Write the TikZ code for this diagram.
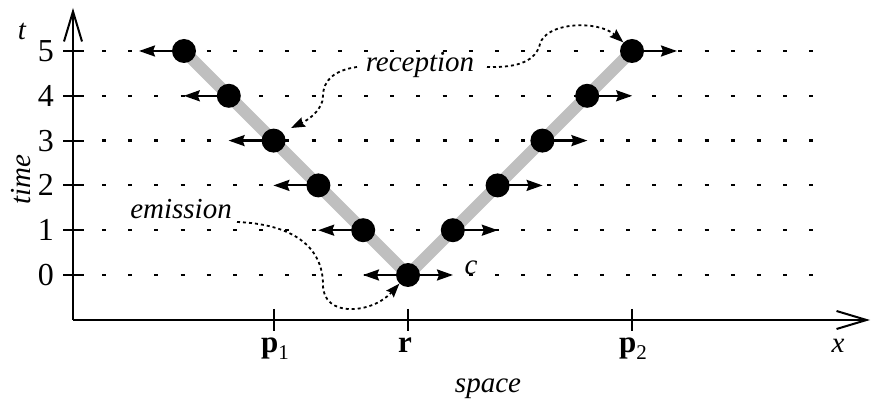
\documentclass[tikz,border=0pt]{standalone}
\usepackage{fontspec}
\setmainfont{Liberation Serif}[ItalicFont={Liberation Serif Italic},BoldFont={Liberation Serif Bold}]
\usetikzlibrary{arrows.meta}
\begin{document}
\begin{tikzpicture}[x=1pt,y=-1pt,
  axis/.style={line width=2pt},
  axisarrow/.style={axis,-{Straight Barb[length=30pt,width=18pt,line width=2pt]}},
  tick/.style={line width=2pt},
  gridline/.style={line width=2.2pt,dash pattern=on 4pt off 22.2pt},
  lightpath/.style={line width=12pt,black!25},
  dot/.style={circle,fill=black,inner sep=0pt,minimum size=24pt},
  carrow/.style={line width=2.2pt,-{Stealth[length=16pt,width=11pt,inset=2pt]}},
  curvy/.style={line width=1.8pt,dash pattern=on 3pt off 3pt,-{Stealth[length=14pt,width=10pt,inset=2pt]}},
  num/.style={font=\fontsize{32}{36}\selectfont,inner sep=0pt},
  lab/.style={font=\fontsize{31}{36}\selectfont,inner sep=0pt},
  itlab/.style={font=\fontsize{29}{34}\selectfont\itshape,inner sep=0pt}
]
\useasboundingbox (0,0) rectangle (871,403);

% grid lines
\foreach \i in {0,...,5}{
  \pgfmathsetmacro{\yy}{275-44.8*\i}
  \draw[gridline] (102,\yy) -- (813,\yy);
}

% axes
\coordinate (O) at (73,320);
\coordinate (ytip) at (73,8);
\coordinate (xtip) at (870,320);
\draw[axisarrow] (O) -- (ytip);
\draw[axisarrow] (O) -- (xtip);

% y ticks and labels
\foreach \i in {0,...,5}{
  \pgfmathsetmacro{\yy}{275-44.8*\i}
  \draw[tick] (63,\yy) -- (84,\yy);
  \node[num,anchor=east] (n\i) at (54,\yy) {\i};
}

% x ticks
\foreach \xx in {274,408,632}{
  \draw[tick] (\xx,309) -- (\xx,331);
}
\newcommand{\mysub}[1]{\raisebox{-0.22em}{\fontsize{21}{24}\selectfont #1}}
\node[lab,anchor=base] (p1) at (275,353) {\textbf{p}\mysub{1}};
\node[lab,anchor=base] (rr) at (405,353) {\textbf{r}};
\node[lab,anchor=base] (p2) at (633,353) {\textbf{p}\mysub{2}};
\node[itlab,anchor=base] (xl) at (838,353) {x};
\node[itlab,anchor=base] (tl) at (22,40) {t};
\node[itlab,anchor=base] (sp) at (488,393) {space};
\node[itlab,rotate=90] (tm) at (21,180) {time};

% path points
\foreach \i in {0,...,5}{
  \pgfmathsetmacro{\yy}{275-44.8*\i}
  \pgfmathsetmacro{\xl}{408-44.8*\i}
  \pgfmathsetmacro{\xr}{408+44.8*\i}
  \coordinate (cL\i) at (\xl,\yy);
  \coordinate (cR\i) at (\xr,\yy);
  \pgfmathsetmacro{\axl}{\xl-45}
  \pgfmathsetmacro{\axr}{\xr+45}
  \coordinate (tL\i) at (\axl,\yy);
  \coordinate (tR\i) at (\axr,\yy);
}
\draw[lightpath] (cL5) -- (cL0) -- (cR5);

\foreach \i in {0,...,5}{
  \draw[carrow] (cL\i) -- (tL\i);
}
\foreach \i in {0,...,5}{
  \draw[carrow] (cR\i) -- (tR\i);
}
\foreach \i in {0,...,5}{
  \node[dot] (L\i) at (cL\i) {};
}
\foreach \i in {1,...,5}{
  \node[dot] (R\i) at (cR\i) {};
}

\node[itlab,anchor=base] (cl) at (471,275) {c};

% annotations
\node[itlab,anchor=base] (rec) at (420,72) {reception};
\node[itlab,anchor=base] (emi) at (181,219) {emission};

\coordinate (recR) at (487,67);
\coordinate (recL) at (357,67);
\coordinate (recM) at (540,44);
\coordinate (recLM) at (323,96);
\coordinate (recTip) at (291,128);
\coordinate (emiS) at (237,222);
\coordinate (emiM) at (323,285);

\draw[curvy] (recR) .. controls (520,68) and (536,60) .. (recM)
  .. controls (546,22) and (598,20) .. (R5.north west);
\draw[curvy] (recL) .. controls (335,70) and (323,80) .. (recLM)
  .. controls (323,110) and (308,120) .. (recTip);
\draw[curvy] (emiS) .. controls (290,224) and (323,245) .. (emiM)
  .. controls (323,318) and (372,314) .. (L0.south west);
\end{tikzpicture}
\end{document}
